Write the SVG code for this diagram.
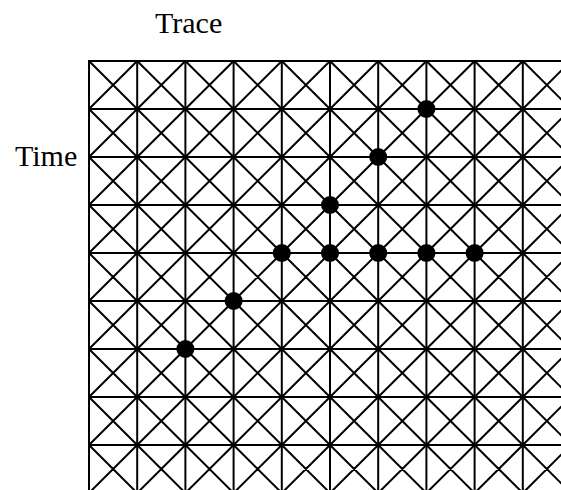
<svg xmlns="http://www.w3.org/2000/svg" xmlns:xlink="http://www.w3.org/1999/xlink" width="561" height="490" viewBox="0 0 561 490">
  <style>
    .label { font-family: "Liberation Serif", "Times New Roman", serif; font-size: 30px; fill: #000; }
    .grid { fill: none; stroke: #000; stroke-width: 2; stroke-linecap: square; }
    .diag { fill: none; stroke: #000; stroke-width: 2; }
    .dot { fill: #000; }
  </style>
  <defs>
    <!-- one row of crossed cells, 48 px tall -->
    <path id="xrow" class="diag" d="M89 0L137.2 48M137.2 0L89 48M137.2 0L185.4 48M185.4 0L137.2 48M185.4 0L233.6 48M233.6 0L185.4 48M233.6 0L281.8 48M281.8 0L233.6 48M281.8 0L330 48M330 0L281.8 48M330 0L378.2 48M378.2 0L330 48M378.2 0L426.4 48M426.4 0L378.2 48M426.4 0L474.6 48M474.6 0L426.4 48M474.6 0L522.8 48M522.8 0L474.6 48M522.8 0L571 48M571 0L522.8 48"/>
  </defs>

  <rect width="561" height="490" fill="#fff"/>

  <text class="label" x="155" y="33">Trace</text>
  <text class="label" x="15" y="166">Time</text>

  <g id="diagonals">
    <use xlink:href="#xrow" y="61"/>
    <use xlink:href="#xrow" y="109"/>
    <use xlink:href="#xrow" y="157"/>
    <use xlink:href="#xrow" y="205"/>
    <use xlink:href="#xrow" y="253"/>
    <use xlink:href="#xrow" y="301"/>
    <use xlink:href="#xrow" y="349"/>
    <use xlink:href="#xrow" y="397"/>
    <use xlink:href="#xrow" y="445"/>
  </g>

  <g id="grid-lines">
    <path class="grid" d="M89 61V493M137.2 61V493M185.4 61V493M233.6 61V493M281.8 61V493M330 61V493M378.2 61V493M426.4 61V493M474.6 61V493M522.8 61V493"/>
    <path class="grid" d="M89 61H571M89 109H571M89 157H571M89 205H571M89 253H571M89 301H571M89 349H571M89 397H571M89 445H571"/>
  </g>

  <g id="points">
    <circle class="dot" cx="185.4" cy="349" r="9"/>
    <circle class="dot" cx="233.6" cy="301" r="9"/>
    <circle class="dot" cx="281.8" cy="253" r="9"/>
    <circle class="dot" cx="330" cy="205" r="9"/>
    <circle class="dot" cx="378.2" cy="157" r="9"/>
    <circle class="dot" cx="426.4" cy="109" r="9"/>
    <circle class="dot" cx="330" cy="253" r="9"/>
    <circle class="dot" cx="378.2" cy="253" r="9"/>
    <circle class="dot" cx="426.4" cy="253" r="9"/>
    <circle class="dot" cx="474.6" cy="253" r="9"/>
  </g>
</svg>
